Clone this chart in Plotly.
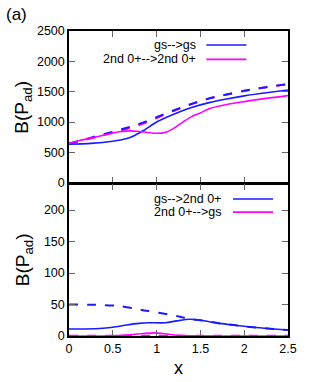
import plotly.graph_objects as go

# ---------------- data ----------------
# upper panel
top_blue_x = [0, 0.25, 0.5, 0.65, 0.75, 0.85, 1.0, 1.1, 1.23, 1.4, 1.6, 1.8, 2.0, 2.25, 2.5]
top_blue_y = [635, 648, 685, 725, 780, 860, 1000, 1070, 1150, 1240, 1320, 1380, 1431, 1482, 1529]

top_mag_x = [0, 0.13, 0.3, 0.5, 0.6, 0.7, 0.8, 0.9, 1.0, 1.1, 1.2, 1.3, 1.4, 1.5, 1.6, 1.8, 2.0, 2.25, 2.5]
top_mag_y = [645, 700, 752, 820, 845, 855, 845, 828, 815, 830, 900, 1000, 1090, 1150, 1220, 1290, 1337, 1390, 1436]

top_blue_d_x = [0, 0.3, 0.6, 0.85, 1.0, 1.2, 1.4, 1.6, 1.8, 2.0, 2.25, 2.5]
top_blue_d_y = [645, 762, 880, 995, 1080, 1195, 1300, 1390, 1455, 1515, 1575, 1627]

top_mag_d_x = [0, 0.3, 0.6, 0.85, 1.0, 1.2, 1.4, 1.6, 1.8, 2.0, 2.25, 2.5]
top_mag_d_y = [640, 748, 862, 975, 1065, 1185, 1295, 1388, 1453, 1513, 1573, 1625]

# lower panel
bot_blue_x = [0, 0.35, 0.5, 0.66, 0.8, 0.9, 1.1, 1.23, 1.38, 1.5, 1.72, 1.9, 2.1, 2.3, 2.5]
bot_blue_y = [11, 12, 14, 17.5, 20, 21, 21, 24, 26.5, 25, 20, 17, 13.8, 11.5, 9.5]

bot_blue_d_x = [0, 0.3, 0.58, 0.885, 1.19, 1.265, 1.38, 1.5, 1.72, 1.9, 2.1, 2.3, 2.5]
bot_blue_d_y = [50, 49.5, 47.5, 40, 33, 30.7, 27, 25, 20, 17, 13.8, 11.5, 9.5]

bot_mag_x = [0, 0.5, 0.7, 0.85, 0.98, 1.1, 1.25, 1.4, 2.0, 2.5]
bot_mag_y = [0, 0.5, 2, 4, 5, 3.5, 1, 0.3, 0, 0]

bot_mag_d_x = [0, 0.5, 1.0, 1.5, 2.0, 2.5]
bot_mag_d_y = [0.3, 0.3, 0.3, 0.3, 0.3, 0.3]

top_legend = ["gs-->gs", "2nd 0+-->2nd 0+"]
bot_legend = ["gs-->2nd 0+", "2nd 0+-->gs"]

x_ticks = [0, 0.5, 1, 1.5, 2, 2.5]
x_ticktext = ["0", "0.5", "1", "1.5", "2", "2.5"]
top_yticks = [0, 500, 1000, 1500, 2000, 2500]
bot_yticks = [0, 50, 100, 150, 200]

BLUE = "#1a1aff"
MAG = "#ff00ff"
FONT = "Liberation Sans, Arial, sans-serif"

fig = go.Figure()

def add(x, y, color, dash, xa, ya, width=1.6):
    fig.add_trace(go.Scatter(x=x, y=y, mode="lines", xaxis=xa, yaxis=ya,
                             line=dict(color=color, width=width, dash=dash, shape="spline", smoothing=0.8),
                             showlegend=False, hoverinfo="skip"))

# upper
add(top_mag_d_x, top_mag_d_y, MAG, "dash", "x", "y", 2)
add(top_blue_d_x, top_blue_d_y, BLUE, "dash", "x", "y", 2)
add(top_blue_x, top_blue_y, BLUE, "solid", "x", "y")
add(top_mag_x, top_mag_y, MAG, "solid", "x", "y")
# lower
add(bot_mag_d_x, bot_mag_d_y, MAG, "dash", "x2", "y2", 2)
add(bot_blue_d_x, bot_blue_d_y, BLUE, "dash", "x2", "y2", 2)
add(bot_blue_x, bot_blue_y, BLUE, "solid", "x2", "y2")
add(bot_mag_x, bot_mag_y, MAG, "solid", "x2", "y2")

LW = 1.5
axis_common = dict(showline=True, linecolor="black", linewidth=LW, mirror="ticks",
                   ticks="inside", ticklen=6, tickcolor="#666", tickwidth=1,
                   showgrid=False, zeroline=False,
                   tickfont=dict(family=FONT, size=12.5, color="black"))

PLOT_H = 305.0
half_gap = (LW / 2) / PLOT_H

fig.update_layout(
    width=313, height=382,
    margin=dict(l=68.5, r=25.3, t=31, b=46),
    paper_bgcolor="white", plot_bgcolor="white",
    showlegend=False,
    xaxis=dict(domain=[0, 1], anchor="y", range=[0, 2.5], tickvals=x_ticks,
               showticklabels=False, **axis_common),
    xaxis2=dict(domain=[0, 1], anchor="y2", range=[0, 2.5], matches="x",
                tickvals=x_ticks, ticktext=x_ticktext, **axis_common),
    yaxis=dict(domain=[0.5 + half_gap, 1], anchor="x", range=[0, 2500], tickvals=top_yticks, **axis_common),
    yaxis2=dict(domain=[0, 0.5 - half_gap], anchor="x2", range=[0, 241], tickvals=bot_yticks, **axis_common),
)

ann = []
# axis titles
for yc in (0.75, 0.25):
    ann.append(dict(text="B(P<sub>ad</sub>)", xref="paper", yref="paper", x=-0.2076, y=yc,
                    xanchor="center", yanchor="middle", textangle=-90, showarrow=False,
                    font=dict(family=FONT, size=19, color="black")))
ann.append(dict(text="x", xref="paper", yref="paper", x=0.5, y=-0.105, xanchor="center",
                yanchor="middle", showarrow=False, font=dict(family=FONT, size=18, color="black")))
ann.append(dict(text="(a)", xref="paper", yref="paper", x=-0.299, y=1.0525, xanchor="left",
                yanchor="middle", showarrow=False, font=dict(family=FONT, size=17, color="black")))

shapes = []
legend_rows = [
    (top_legend[0], BLUE, 0.954, 0.591, 0.627, 0.810),
    (top_legend[1], MAG, 0.907, 0.591, 0.627, 0.810),
    (bot_legend[0], BLUE, 0.449, 0.703, 0.749, 0.932),
    (bot_legend[1], MAG, 0.406, 0.703, 0.749, 0.932),
]
for text, col, yy, xt, x0, x1 in legend_rows:
    ann.append(dict(text=text, xref="paper", yref="paper", x=xt, y=yy, xanchor="right",
                    yanchor="middle", showarrow=False, font=dict(family=FONT, size=12.5, color="black")))
    shapes.append(dict(type="line", xref="paper", yref="paper", x0=x0, x1=x1, y0=yy, y1=yy,
                       line=dict(color=col, width=1.6)))

fig.update_layout(annotations=ann, shapes=shapes)
fig.write_html("out.html", config={"displayModeBar": False},
               post_script="document.body.style.margin='0';document.body.style.overflow='hidden';")
